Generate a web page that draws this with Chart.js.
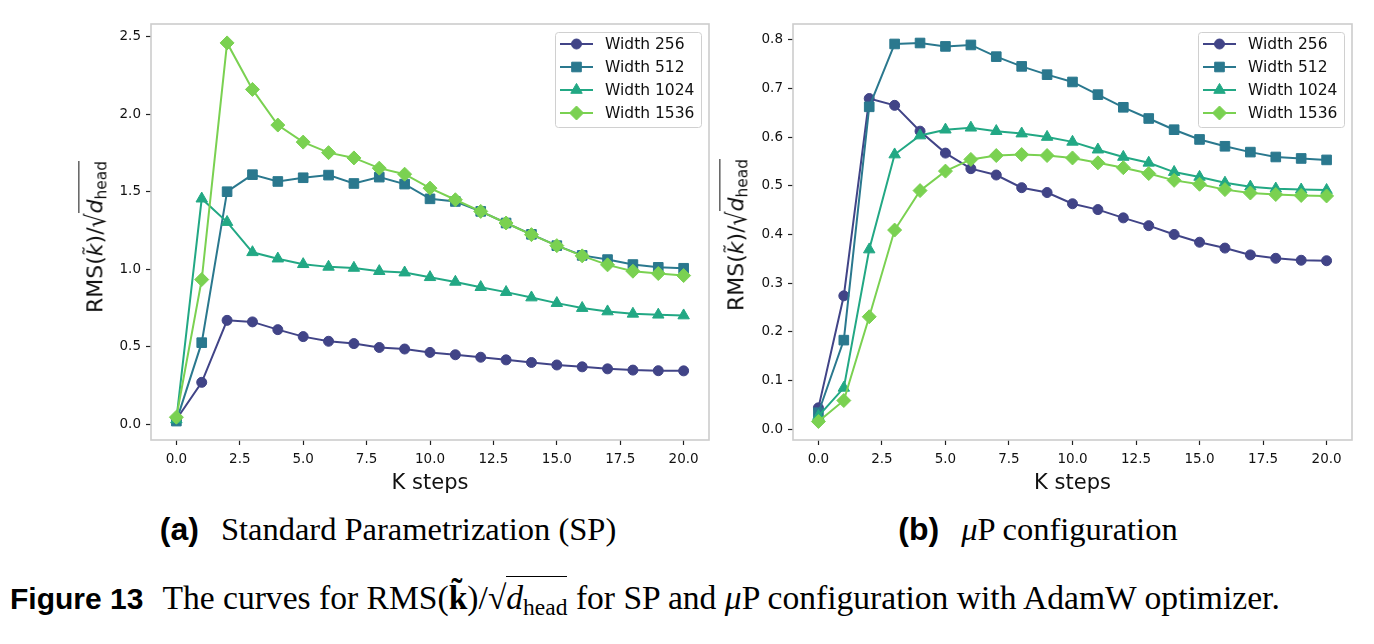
<!DOCTYPE html>
<html>
<head>
<meta charset="utf-8">
<script src="https://cdn.jsdelivr.net/npm/chart.js@4.4.0/dist/chart.umd.min.js"></script>
<style>
  html, body { margin: 0; padding: 0; background: #fff; }
  #page { position: relative; width: 1374px; height: 644px; overflow: hidden; background: #fff; }
  .box { position: absolute; top: 0; height: 500px; }
  #boxA { left: 0; width: 720px; }
  #boxB { left: 720px; width: 654px; }
  .ylab {
    position: absolute; font-family: "DejaVu Sans"; font-size: 22px; color: #111;
    white-space: nowrap; line-height: 1; transform: translate(-50%, -50%) rotate(-90deg);
  }
  .ylab i { font-style: italic; }
  .ylab sub { font-size: 70%; vertical-align: -0.25em; }
  .ylab .ov { border-top: 1.5px solid #111; padding-top: 3px; }
  .rad { display: inline-block; transform: scaleY(1.25); transform-origin: 50% 30%; }
  .cap { position: absolute; white-space: nowrap; color: #000; line-height: 1; }
  .sf { font-family: "Liberation Sans", Arial, sans-serif; font-weight: bold; }
  .rm { font-family: "Liberation Serif", "Times New Roman", serif; }
  .cap sub { font-size: 70%; vertical-align: -0.25em; }
  .cap .ov { border-top: 1.2px solid #000; padding-top: 2px; }
  .gap { display: inline-block; }
</style>
</head>
<body>
<div id="page">
  <div class="box" id="boxA"><canvas id="chartSP"></canvas></div>
  <div class="box" id="boxB"><canvas id="chartMuP"></canvas></div>

  <div class="ylab" style="left:97px; top:237px;">RMS(<i>k&#771;</i>)/<span class="rad">&#8730;</span><span class="ov"><i>d</i><sub>head</sub></span></div>
  <div class="ylab" style="left:738px; top:235px;">RMS(<i>k&#771;</i>)/<span class="rad">&#8730;</span><span class="ov"><i>d</i><sub>head</sub></span></div>

  <div class="cap" style="left:0; width:776px; top:513px; text-align:center;">
    <span class="sf" style="font-size:32px;">(a)</span><span class="gap" style="width:22px;"></span><span class="rm" style="font-size:32.5px;">Standard Parametrization (SP)</span>
  </div>
  <div class="cap" style="left:710px; width:656px; top:513px; text-align:center;">
    <span class="sf" style="font-size:32px;">(b)</span><span class="gap" style="width:22px;"></span><span class="rm" style="font-size:32.5px;"><i>&#956;</i>P configuration</span>
  </div>
  <div class="cap" style="left:10px; top:581px;">
    <span class="sf" style="font-size:30px;">Figure 13</span><span class="gap" style="width:19px;"></span><span class="rm" style="font-size:33.6px;">The curves for RMS(<b>k&#771;</b>)/<span>&#8730;</span><span class="ov"><i>d</i><sub>head</sub></span> for SP and <i>&#956;</i>P configuration with AdamW optimizer.</span>
  </div>
</div>

<script>
// K steps on the x axis
const kSteps = [0, 1, 2, 3, 4, 5, 6, 7, 8, 9, 10, 11, 12, 13, 14, 15, 16, 17, 18, 19, 20];
const xTicks = [0, 2.5, 5, 7.5, 10, 12.5, 15, 17.5, 20];

const seriesNames = ['Width 256', 'Width 512', 'Width 1024', 'Width 1536'];

// (a) Standard Parametrization
const sp256  = [0.03, 0.27, 0.67, 0.66, 0.61, 0.565, 0.535, 0.52, 0.495, 0.485, 0.463, 0.448, 0.432, 0.415, 0.398, 0.382, 0.37, 0.357, 0.349, 0.345, 0.344];
const sp512  = [0.02, 0.526, 1.50, 1.61, 1.566, 1.59, 1.607, 1.553, 1.594, 1.549, 1.454, 1.437, 1.373, 1.298, 1.225, 1.152, 1.089, 1.062, 1.03, 1.012, 1.006];
const sp1024 = [0.03, 1.455, 1.304, 1.109, 1.068, 1.032, 1.015, 1.008, 0.987, 0.978, 0.948, 0.918, 0.884, 0.852, 0.817, 0.781, 0.749, 0.727, 0.712, 0.706, 0.701];
const sp1536 = [0.045, 0.933, 2.46, 2.16, 1.93, 1.82, 1.752, 1.718, 1.652, 1.613, 1.523, 1.448, 1.373, 1.298, 1.223, 1.152, 1.086, 1.028, 0.987, 0.972, 0.959];
const spTicks = [0, 0.5, 1.0, 1.5, 2.0, 2.5];

// (b) muP configuration
const mup256  = [0.044, 0.274, 0.679, 0.665, 0.612, 0.567, 0.535, 0.522, 0.496, 0.486, 0.463, 0.451, 0.434, 0.418, 0.400, 0.384, 0.372, 0.358, 0.351, 0.347, 0.346];
const mup512  = [0.034, 0.183, 0.662, 0.791, 0.793, 0.786, 0.789, 0.765, 0.745, 0.728, 0.713, 0.687, 0.661, 0.638, 0.615, 0.595, 0.581, 0.569, 0.559, 0.556, 0.553];
const mup1024 = [0.027, 0.085, 0.369, 0.564, 0.603, 0.615, 0.619, 0.612, 0.607, 0.600, 0.590, 0.574, 0.559, 0.547, 0.528, 0.518, 0.506, 0.498, 0.494, 0.492, 0.491];
const mup1536 = [0.016, 0.059, 0.231, 0.409, 0.490, 0.530, 0.554, 0.562, 0.564, 0.562, 0.557, 0.547, 0.537, 0.525, 0.511, 0.503, 0.492, 0.485, 0.482, 0.480, 0.479];
const mupTicks = [0, 0.1, 0.2, 0.3, 0.4, 0.5, 0.6, 0.7, 0.8];

const colors = ['#414487', '#2a788e', '#22a884', '#7ad151'];
const markers = ['circle', 'rect', 'triangle', 'rectRot'];
const markerRadius = [5, 6.8, 6.6, 7];

const TEXT = '#111';
const FONT = 'DejaVu Sans';

function makeDatasets(allValues) {
  return allValues.map((vals, i) => ({
    label: seriesNames[i],
    data: kSteps.map((k, j) => ({ x: k, y: vals[j] })),
    borderColor: colors[i],
    backgroundColor: colors[i],
    borderWidth: 2,
    pointStyle: markers[i],
    pointRadius: markerRadius[i],
    pointBorderWidth: 1,
    pointBackgroundColor: colors[i],
    pointBorderColor: colors[i],
    tension: 0,
    order: 4 - i, // later series on top, like matplotlib
  }));
}

// light grey box around the axes, as in the figure
const framePlugin = {
  id: 'frame',
  afterDatasetsDraw(chart) {
    const { ctx, chartArea: a } = chart;
    ctx.save();
    ctx.strokeStyle = '#cccccc';
    ctx.lineWidth = 1.6;
    ctx.strokeRect(a.left, a.top, a.right - a.left, a.bottom - a.top);
    ctx.restore();
  }
};

// matplotlib style legend: line with marker in the middle
const lineLegend = {
  id: 'lineLegend',
  afterDraw(chart) {
    const { ctx, chartArea: a } = chart;
    const sets = chart.data.datasets;
    const w = 146, h = 95;
    const x0 = a.right - 8 - w, y0 = a.top + 8;
    ctx.save();
    ctx.fillStyle = 'rgba(255,255,255,0.85)';
    ctx.strokeStyle = '#d0d0d0';
    ctx.lineWidth = 1;
    ctx.beginPath();
    ctx.roundRect(x0 + 0.5, y0 + 0.5, w, h, 3);
    ctx.fill();
    ctx.stroke();
    ctx.font = '15.5px "' + FONT + '"';
    ctx.textBaseline = 'middle';
    sets.forEach((ds, i) => {
      const y = y0 + 12 + i * 23;
      ctx.strokeStyle = ds.borderColor;
      ctx.lineWidth = 2;
      ctx.beginPath();
      ctx.moveTo(x0 + 5, y);
      ctx.lineTo(x0 + 38, y);
      ctx.stroke();
      ctx.fillStyle = ds.backgroundColor;
      ctx.lineWidth = 1;
      Chart.helpers.drawPoint(ctx, { pointStyle: ds.pointStyle, radius: ds.pointRadius, rotation: 0, borderWidth: 1 }, x0 + 21.5, y);
      ctx.fillStyle = TEXT;
      ctx.fillText(ds.label, x0 + 50, y + 1);
    });
    ctx.restore();
  }
};

function makeChart(id, allValues, yTicks, yMin, yMax, padLeft, padRight) {
  const ctx = document.getElementById(id).getContext('2d');
  return new Chart(ctx, {
    type: 'line',
    data: { datasets: makeDatasets(allValues) },
    options: {
      responsive: true,
      maintainAspectRatio: false,
      animation: false,
      layout: { padding: { left: padLeft, right: padRight, top: 24, bottom: 4 } },
      plugins: { legend: { display: false }, tooltip: { enabled: false } },
      scales: {
        x: {
          type: 'linear', min: -1, max: 21,
          afterBuildTicks: s => { s.ticks = xTicks.map(v => ({ value: v })); },
          afterFit: s => { s.height = 56; },
          border: { display: false },
          grid: { drawOnChartArea: false, drawTicks: true, tickLength: 5, tickWidth: 1.2, tickColor: '#222' },
          ticks: { autoSkip: false, maxRotation: 0, padding: 6, color: TEXT, font: { family: FONT, size: 13.5 }, callback: v => v.toFixed(1) },
          title: { display: true, text: 'K steps', color: TEXT, padding: 0, font: { family: FONT, size: 21 } }
        },
        y: {
          min: yMin, max: yMax,
          afterBuildTicks: s => { s.ticks = yTicks.map(v => ({ value: v })); },
          afterFit: s => { s.width = 45; },
          border: { display: false },
          grid: { drawOnChartArea: false, drawTicks: true, tickLength: 5, tickWidth: 1.2, tickColor: '#222' },
          ticks: { autoSkip: false, padding: 5, color: TEXT, font: { family: FONT, size: 13.5 }, callback: v => v.toFixed(1) }
        }
      }
    },
    plugins: [framePlugin, lineLegend]
  });
}

makeChart('chartSP', [sp256, sp512, sp1024, sp1536], spTicks, -0.102, 2.582, 106, 11);
makeChart('chartMuP', [mup256, mup512, mup1024, mup1536], mupTicks, -0.022, 0.832, 28, 22);
</script>
</body>
</html>
